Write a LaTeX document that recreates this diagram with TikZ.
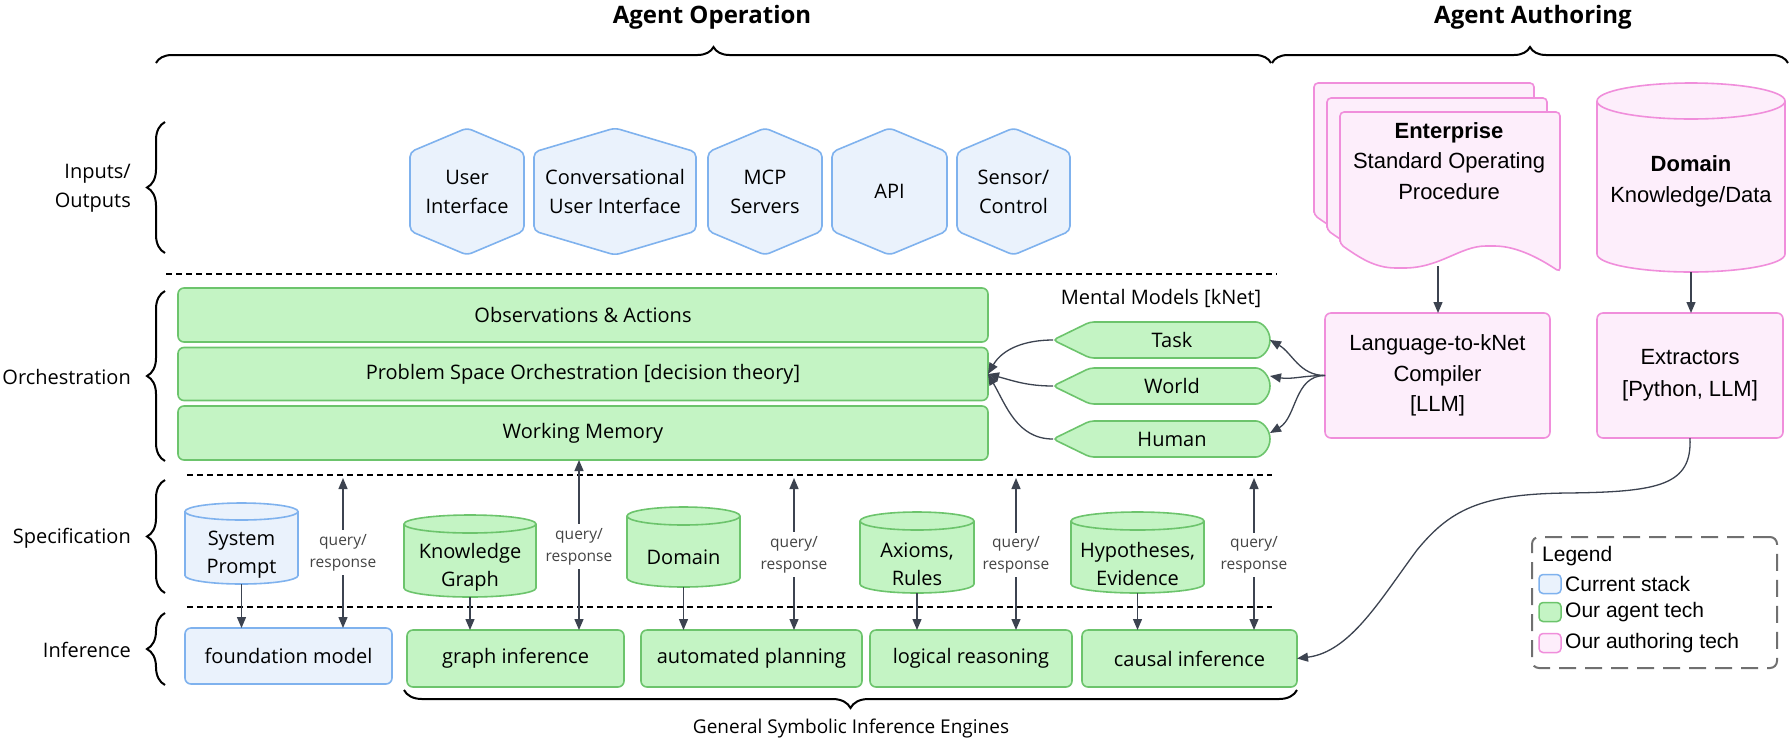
\documentclass[tikz,border=0pt]{standalone}
\usepackage{fontspec}
\setmainfont{Open Sans}
\newfontfamily\interf{Liberation Sans}
\usetikzlibrary{arrows.meta,decorations.pathreplacing,calc}
\definecolor{gfill}{HTML}{C4F4C4}
\definecolor{gdraw}{HTML}{6CC46C}
\definecolor{bfill}{HTML}{EAF2FC}
\definecolor{bdraw}{HTML}{7FB2EE}
\definecolor{pfill}{HTML}{FDEEFB}
\definecolor{pdraw}{HTML}{F08EDB}
\definecolor{cline}{HTML}{3C4350}
\definecolor{qrtext}{HTML}{444444}
\definecolor{lgray}{HTML}{707070}

\tikzset{
  txt/.style={font=\fontsize{20}{28}\selectfont, align=center, inner sep=0pt, text=black},
  itxt/.style={font=\interf\fontsize{22}{30.5}\selectfont, align=center, inner sep=0pt, text=black},
  boxg/.style={draw=gdraw, fill=gfill, line width=1.6pt, rounded corners=6pt, txt, outer sep=0pt},
  boxb/.style={draw=bdraw, fill=bfill, line width=1.6pt, rounded corners=6pt, txt, outer sep=0pt},
  boxp/.style={draw=pdraw, fill=pfill, line width=1.6pt, rounded corners=6pt, itxt, outer sep=0pt},
  shpg/.style={draw=gdraw, fill=gfill, line width=1.6pt},
  shpb/.style={draw=bdraw, fill=bfill, line width=1.6pt},
  shpp/.style={draw=pdraw, fill=pfill, line width=1.6pt},
  anc/.style={inner sep=0pt, outer sep=0pt},
  arr/.style={draw=cline, line width=1.3pt, ->},
  darr/.style={draw=cline, line width=1.3pt, <->},
  sepline/.style={line width=2.2pt, dash pattern=on 6pt off 4pt},
  brc/.style={decorate, decoration={brace, amplitude=#1}, line width=2pt},
  qr/.style={font=\fontsize{15.5}{22}\selectfont, text=qrtext, fill=white, align=center, inner xsep=1pt, inner ysep=4pt},
  lbl/.style={font=\fontsize{20}{29}\selectfont, align=right, anchor=east, inner sep=0pt},
  ttl/.style={font=\bfseries\fontsize{24}{28}\selectfont, inner sep=0pt},
}

\newcommand\hexa[4]{%
  \draw[shpb, rounded corners=5pt] (#2,128) -- ({#2+#3},152) -- ({#2+#3},231) -- (#2,255) -- ({#2-#3},231) -- ({#2-#3},152) -- cycle;
  \node[txt, font=\fontsize{20}{29}\selectfont] (#1) at (#2,191.5) {#4};
}
\newcommand\mshape[3]{%
  \draw[shpg, rounded corners=4pt] (1053,#2) -- (1090,{#2-18}) -- (1252,{#2-18}) arc[start angle=90,end angle=-90,radius=18pt] -- (1090,{#2+18}) -- cycle;
  \node[anc, minimum width=217pt, minimum height=36pt] (#1) at (1161.5,#2) {};
  \node[txt] (#1-t) at (1172,#2) {#3};
}
\newcommand\cyl[7]{%
  \pgfmathsetmacro\cylrx{(#4-#2)/2}%
  \draw[#7] (#2,{#3+#6}) -- (#2,{#5-#6}) arc[start angle=180,end angle=360,x radius=\cylrx pt,y radius=#6pt] -- (#4,{#3+#6}) arc[start angle=0,end angle=180,x radius=\cylrx pt,y radius=#6pt] -- cycle;
  \draw[#7,fill=none] (#2,{#3+#6}) arc[start angle=180,end angle=360,x radius=\cylrx pt,y radius=#6pt];
  \node[anc, minimum width={#4-#2}, minimum height={#5-#3}] (#1) at ({(#2+#4)/2},{(#3+#5)/2}) {};
}
\newcommand\docpage[2]{%
  \draw[shpp, rounded corners=4pt, shift={(#1,#2)}] (1340,244) -- (1340,112) -- (1560,112) -- (1560,272) .. controls (1530,252) and (1510,246) .. (1490,246) .. controls (1460,246) and (1440,268) .. (1400,268) .. controls (1375,268) and (1360,258) .. (1340,244) -- cycle;
}

\begin{document}
\begin{tikzpicture}[x=1pt,y=-1pt,>={Triangle[length=11pt,width=9pt]}]
\useasboundingbox (0,0) rectangle (1790,740);
\fill[white] (0,0) rectangle (1790,740);

% titles and top braces
\node[ttl] (ttlop) at (712,17) {Agent Operation};
\node[ttl] (ttlau) at (1533,17) {Agent Authoring};
\draw[brc=16pt] (156,63) -- (1271,63);
\draw[brc=16pt] (1272,63) -- (1788,63);

% left labels and braces
\node[lbl] (lio) at (131,188) {Inputs/\\Outputs};
\draw[brc=18pt] (165,253) -- (165,122);
\node[lbl] (lor) at (131,377) {Orchestration};
\draw[brc=18pt] (165,461) -- (165,291);
\node[lbl] (lsp) at (131,538) {Specification};
\draw[brc=18pt] (165,593) -- (165,480);
\node[lbl] (lin) at (131,650) {Inference};
\draw[brc=18pt] (165,685) -- (165,613);

% inputs / outputs
\hexa{ui}{467}{57}{User\\Interface}
\hexa{cui}{615}{81}{Conversational\\User Interface}
\hexa{mcp}{765}{57}{MCP\\Servers}
\hexa{api}{889.5}{57.5}{API}
\hexa{sen}{1013.5}{56.5}{Sensor/\\Control}

% separators
\draw[sepline] (166,274) -- (1277,274);
\draw[sepline] (187,475) -- (1272,475);
\draw[sepline] (187,607) -- (1272,607);

% orchestration
\node[boxg, minimum width=810pt, minimum height=54pt] (obs) at (583,315) {Observations \& Actions};
\node[boxg, minimum width=810pt, minimum height=53pt] (ps) at (583,374) {Problem Space Orchestration [decision theory]};
\node[boxg, minimum width=810pt, minimum height=54pt] (wm) at (583,433) {Working Memory};

% mental models
\node[txt] (mmt) at (1161,298) {Mental Models [kNet]};
\mshape{task}{340}{Task}
\mshape{world}{386}{World}
\mshape{human}{439}{Human}

% authoring sources
\docpage{-26}{-29}
\docpage{-13}{-14}
\docpage{0}{0}
\node[anc, minimum width=220pt, minimum height=160pt] (sop) at (1450,190) {};
\node[itxt] (sopt) at (1449,161) {{\bfseries Enterprise}\\Standard Operating\\Procedure};
\coordinate (docb) at (1438,266);
\cyl{dkd}{1597}{83}{1785}{272}{18}{shpp}
\node[itxt, font=\interf\fontsize{22}{31}\selectfont] (dkdt) at (1691,181.5) {{\bfseries Domain}\\Knowledge/Data};

\node[boxp, minimum width=225pt, minimum height=125pt] (lang) at (1437.5,375.5) {Language-to-kNet\\Compiler\\{[LLM]}};
\node[boxp, minimum width=186pt, minimum height=125pt, font=\interf\fontsize{22}{32}\selectfont] (ext) at (1690,375.5) {Extractors\\{[Python, LLM]}};

% specification
\cyl{sp}{185}{503}{298}{584}{8.5}{shpb}
\node[txt] (spt) at (241.5,555) {System\\Prompt};
\cyl{kg}{404}{515}{536}{597}{9}{shpg}
\node[txt] (kgt) at (470,567) {Knowledge\\Graph};
\cyl{dom}{627}{507}{740}{587}{9}{shpg}
\node[txt] (domt) at (683.5,557) {Domain};
\cyl{ax}{860}{512}{974}{593}{9}{shpg}
\node[txt] (axt) at (917,564) {Axioms,\\Rules};
\cyl{hyp}{1071}{512}{1204}{593}{9}{shpg}
\node[txt] (hypt) at (1137.5,564) {Hypotheses,\\Evidence};

% inference
\node[boxb, minimum width=207pt, minimum height=56pt] (found) at (288.5,656) {foundation model};
\node[boxg, minimum width=217pt, minimum height=57pt] (graph) at (515.5,658.5) {graph inference};
\node[boxg, minimum width=221pt, minimum height=57pt] (plan) at (751.5,658.5) {automated planning};
\node[boxg, minimum width=202pt, minimum height=57pt] (logic) at (971,658.5) {logical reasoning};
\node[boxg, minimum width=215pt, minimum height=57pt] (causal) at (1189.5,658.5) {causal inference};

\draw[brc=18pt] (1297,690) -- (404,690);
\node[txt, font=\fontsize{19}{24}\selectfont] (gsie) at (851,728) {General Symbolic Inference Engines};

% spec -> inference arrows
\draw[arr] (sp.south) -- (sp.south |- found.north);
\draw[arr] (kg.south) -- (kg.south |- graph.north);
\draw[arr] (dom.south) -- (dom.south |- plan.north);
\draw[arr] (ax.south) -- (ax.south |- logic.north);
\draw[arr] (hyp.south) -- (hyp.south |- causal.north);

% query / response
\coordinate (q1) at (343,478);
\coordinate (q2) at (579,0);
\coordinate (q3) at (794,478);
\coordinate (q4) at (1016,478);
\coordinate (q5) at (1254,478);
\draw[darr] (q1) -- (q1 |- found.north);
\draw[darr] (q2 |- wm.south) -- (q2 |- graph.north);
\draw[darr] (q3) -- (q3 |- plan.north);
\draw[darr] (q4) -- (q4 |- logic.north);
\draw[darr] (q5) -- (q5 |- causal.north);
\node[qr] (qr1) at (343,552.5) {query/\\response};
\node[qr] (qr2) at (579,546.5) {query/\\response};
\node[qr] (qr3) at (794,554.5) {query/\\response};
\node[qr] (qr4) at (1016,555) {query/\\response};
\node[qr] (qr5) at (1254,555) {query/\\response};

% authoring arrows
\draw[arr] (docb) -- (docb |- lang.north);
\draw[arr] (dkd.south) -- (dkd.south |- ext.north);
\draw[arr] (lang.west) to[out=180,in=-30] (task.east);
\draw[arr] (lang.west) to[out=180,in=-10] ([yshift=10pt]world.east);
\draw[arr] (lang.west) to[out=180,in=30] ([yshift=6pt]human.east);
\draw[arr] (task.west) to[out=180,in=60] (ps.east);
\draw[arr] (world.west) to[out=180,in=-15] (ps.east);
\draw[arr] (human.west) to[out=180,in=-60] (ps.east);
\draw[arr] (ext.south) .. controls (1692,485) and (1660,492) .. (1567,493) .. controls (1480,494) and (1450,510) .. (1417,550) .. controls (1380,600) and (1350,652) .. (causal.east);

% legend
\node[draw=lgray, line width=2pt, dash pattern=on 17pt off 9pt, rounded corners=7pt, minimum width=245pt, minimum height=131pt, anc] (legend) at (1654.5,602.5) {};
\node[itxt, font=\interf\fontsize{21}{25}\selectfont, anchor=west] (legt) at (1542,556) {Legend};
\node[draw=bdraw, fill=bfill, line width=1.5pt, rounded corners=4pt, minimum width=22pt, minimum height=19pt, anc] (sw1) at (1550,584) {};
\node[draw=gdraw, fill=gfill, line width=1.5pt, rounded corners=4pt, minimum width=22pt, minimum height=19pt, anc] (sw2) at (1550,612) {};
\node[draw=pdraw, fill=pfill, line width=1.5pt, rounded corners=4pt, minimum width=22pt, minimum height=19pt, anc] (sw3) at (1550,643) {};
\node[itxt, font=\interf\fontsize{21}{25}\selectfont, anchor=west] (lt1) at (1565,584) {Current stack};
\node[itxt, font=\interf\fontsize{21}{25}\selectfont, anchor=west] (lt2) at (1565,612) {Our agent tech};
\node[itxt, font=\interf\fontsize{21}{25}\selectfont, anchor=west] (lt3) at (1565,643) {Our authoring tech};
\end{tikzpicture}
\end{document}
